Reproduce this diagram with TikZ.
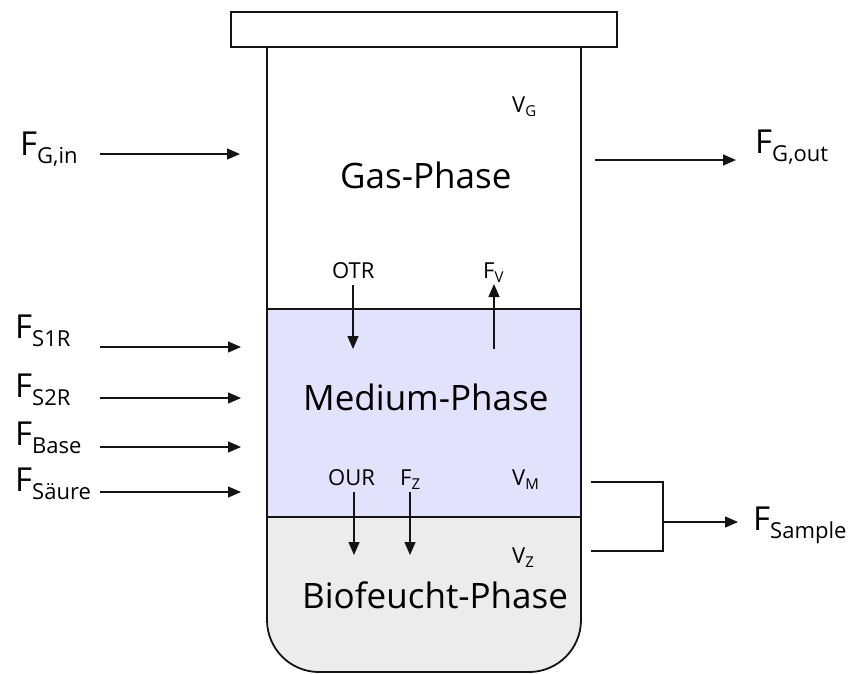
\documentclass[tikz,border=0pt]{standalone}
\usepackage{fontspec}
\setmainfont{Open Sans}
\usepackage{xcolor}
\usepackage{tikz}
\usetikzlibrary{arrows.meta,positioning}
\definecolor{mediumFill}{RGB}{226,226,252}
\definecolor{bioFill}{RGB}{236,236,236}
\definecolor{lineBlack}{RGB}{20,20,20}
\newcommand{\bigsub}[1]{\raisebox{-0.25em}{\fontsize{22}{22}\selectfont #1}}
\newcommand{\smallsub}[1]{\raisebox{-0.22em}{\fontsize{15}{15}\selectfont #1}}
\tikzset{
  wall/.style={lineBlack, line width=1.8pt},
  flowarrow/.style={lineBlack, line width=1.3pt, -{Triangle[length=13pt,width=11pt]}},
  biglbl/.style={anchor=base west, inner sep=0pt, font=\fontsize{33}{36}\selectfont},
  phaselbl/.style={anchor=base west, inner sep=0pt, font=\fontsize{35}{38}\selectfont},
  smalllbl/.style={anchor=base west, inner sep=0pt, font=\fontsize{22}{24}\selectfont},
}
\begin{document}
\begin{tikzpicture}[x=1pt,y=-1pt]
    \useasboundingbox (0,0) rectangle (853,673);

    % phase fills
    \fill[white] (267,47) rectangle (581,309);
    \fill[mediumFill] (267,309) rectangle (581,517);
    \fill[bioFill] (267,517) -- (267,620) arc[start angle=180, end angle=90, radius=52]
        -- (529,672) arc[start angle=90, end angle=0, radius=52] -- (581,517) -- cycle;

    % vessel walls and phase boundaries
    \draw[wall] (267,47) -- (267,620) arc[start angle=180, end angle=90, radius=52]
        -- (529,672) arc[start angle=90, end angle=0, radius=52] -- (581,47);
    \draw[wall] (267,309) -- (581,309);
    \draw[wall] (267,517) -- (581,517);

    % lid
    \draw[wall, fill=white] (231,12) rectangle (617,47);

    % phase names
    \node[phaselbl] (gas) at (340,188) {Gas-Phase};
    \node[phaselbl] (medium) at (303,410) {Medium-Phase};
    \node[phaselbl] (bio) at (302,608) {Biofeucht-Phase};

    % volumes
    \node[smalllbl] (vg) at (512,112) {V\smallsub{G}};
    \node[smalllbl] (vm) at (512,485) {V\smallsub{M}};
    \node[smalllbl] (vz) at (512,563) {V\smallsub{Z}};

    % gas in / out
    \node[biglbl] (fgin) at (20,155) {F\bigsub{G,in}};
    \coordinate (fgin-s) at (100,154);
    \coordinate (fgin-e) at (240,154);
    \draw[flowarrow] (fgin-s) -- (fgin-e);

    \node[biglbl] (fgout) at (755,153) {F\bigsub{G,out}};
    \coordinate (fgout-s) at (595,160);
    \coordinate (fgout-e) at (736,160);
    \draw[flowarrow] (fgout-s) -- (fgout-e);

    % feeds into the medium
    \node[biglbl] (fs1r) at (15,338) {F\bigsub{S1R}};
    \coordinate (fs1r-s) at (100,347);
    \coordinate (fs1r-e) at (241,347);
    \draw[flowarrow] (fs1r-s) -- (fs1r-e);

    \node[biglbl] (fs2r) at (15,397) {F\bigsub{S2R}};
    \coordinate (fs2r-s) at (100,398);
    \coordinate (fs2r-e) at (241,398);
    \draw[flowarrow] (fs2r-s) -- (fs2r-e);

    \node[biglbl] (fbase) at (15,445) {F\bigsub{Base}};
    \coordinate (fbase-s) at (100,447);
    \coordinate (fbase-e) at (241,447);
    \draw[flowarrow] (fbase-s) -- (fbase-e);

    \node[biglbl] (fsaeure) at (15,491) {F\bigsub{Säure}};
    \coordinate (fsaeure-s) at (100,492);
    \coordinate (fsaeure-e) at (241,492);
    \draw[flowarrow] (fsaeure-s) -- (fsaeure-e);

    % exchange gas / medium
    \node[smalllbl] (otr) at (332,278) {OTR};
    \coordinate (otr-s) at (353,285);
    \coordinate (otr-e) at (353,349);
    \draw[flowarrow] (otr-s) -- (otr-e);

    \node[smalllbl] (fv) at (483,278) {F\smallsub{V}};
    \coordinate (fv-s) at (494,349);
    \coordinate (fv-e) at (494,284);
    \draw[flowarrow] (fv-s) -- (fv-e);

    % exchange medium / biofeucht
    \node[smalllbl] (our) at (328,485) {OUR};
    \coordinate (our-s) at (354,492);
    \coordinate (our-e) at (354,555);
    \draw[flowarrow] (our-s) -- (our-e);

    \node[smalllbl] (fz) at (400,485) {F\smallsub{Z}};
    \coordinate (fz-s) at (410,492);
    \coordinate (fz-e) at (410,555);
    \draw[flowarrow] (fz-s) -- (fz-e);

    % sample
    \coordinate (smp-top) at (591,482);
    \coordinate (smp-topr) at (663,482);
    \coordinate (smp-botr) at (663,551);
    \coordinate (smp-bot) at (591,551);
    \coordinate (smp-mid) at (663,522);
    \coordinate (smp-end) at (738,522);
    \draw[lineBlack, line width=1.3pt] (smp-top) -- (smp-topr) -- (smp-botr) -- (smp-bot);
    \draw[flowarrow] (smp-mid) -- (smp-end);
    \node[biglbl] (fsample) at (753,530) {F\bigsub{Sample}};
\end{tikzpicture}
\end{document}
